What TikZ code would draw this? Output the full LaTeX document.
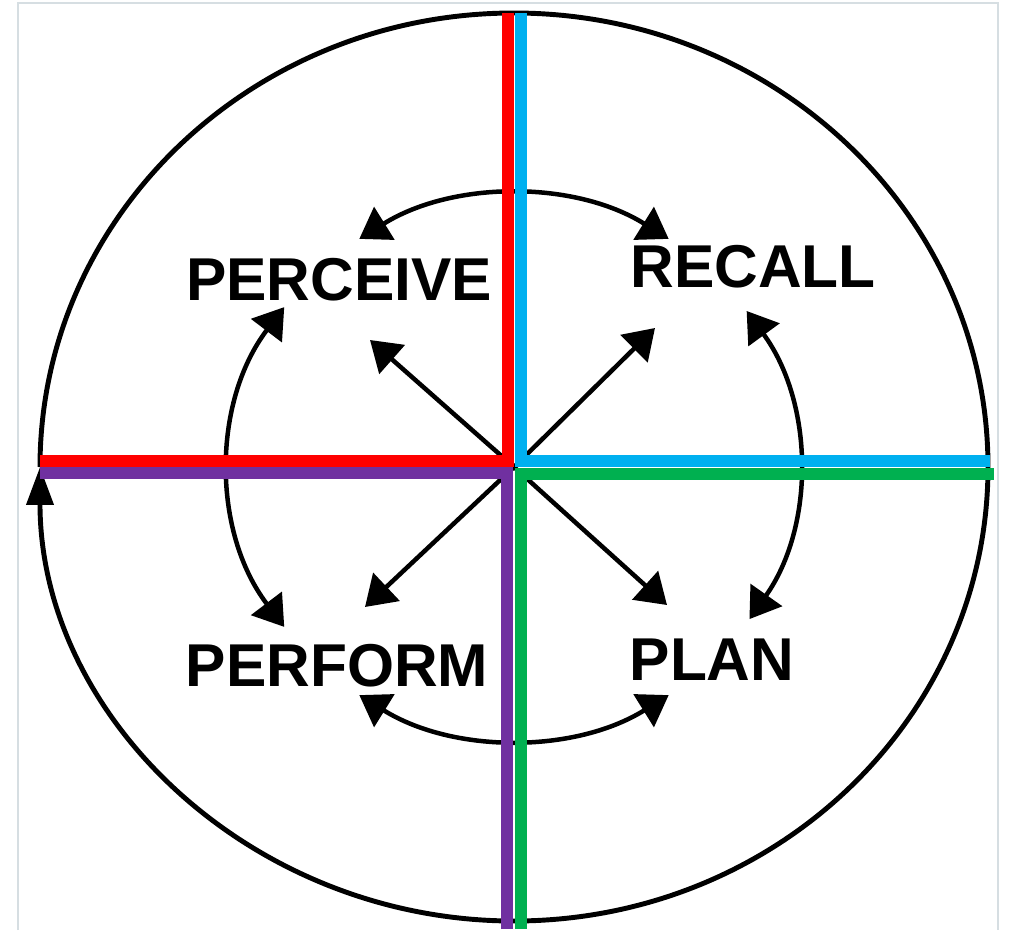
\documentclass[tikz,border=0pt]{standalone}
\usepackage{fontspec}
\setmainfont{Liberation Sans}
\usetikzlibrary{arrows.meta}
\definecolor{qred}{HTML}{FF0000}
\definecolor{qblue}{HTML}{00B0F0}
\definecolor{qgreen}{HTML}{00B050}
\definecolor{qpurple}{HTML}{7030A0}
\definecolor{framegrey}{HTML}{D6DEE2}
\begin{document}
\begin{tikzpicture}[x=0.025cm,y=0.025cm,
  lbl/.style={font=\fontsize{43}{50}\selectfont\bfseries,inner sep=0pt},
  bar/.style={line width=8.4pt,line join=miter},
  arr/.style={line width=3.2pt,-{Triangle[length=21pt,width=27pt]}},
  twoarr/.style={line width=3.2pt,{Triangle[length=21pt,width=27pt]}-{Triangle[length=21pt,width=27pt]}}]
\useasboundingbox (-514,-463) rectangle (496,467);
% cadre
\draw[framegrey,line width=1.5pt] (-496,-463) -- (-496,464) -- (484,464) -- (484,-463);
% cercle exterieur
\draw[line width=3.5pt,-{Triangle[length=27pt,width=19pt]}] (-474,0) arc[start angle=180,end angle=-180,x radius=474,y radius=454];
% etiquettes
\node[lbl] (perceive) at (-175,187) {PERCEIVE};
\node[lbl] (recall) at (239,200) {RECALL};
\node[lbl] (perform) at (-177,-199) {PERFORM};
\node[lbl] (plan) at (198,-193) {PLAN};
% fleches diagonales
\coordinate (c) at (0,0);
\coordinate (tpe) at (-144,127);
\coordinate (tre) at (141,139);
\coordinate (tpf) at (-149,-140);
\coordinate (tpl) at (153,-138);
\draw[arr] (c) -- (tpe);
\draw[arr] (c) -- (tre);
\draw[arr] (c) -- (tpf);
\draw[arr] (c) -- (tpl);
% fleches courbes
\draw[twoarr] (57:284 and 272) arc[start angle=57,end angle=123,x radius=284,y radius=272];
\draw[twoarr] (144:284 and 272) arc[start angle=144,end angle=216,x radius=284,y radius=272];
\draw[twoarr] (237:284 and 272) arc[start angle=237,end angle=303,x radius=284,y radius=272];
\draw[twoarr] (-34:284 and 272) arc[start angle=-34,end angle=35,x radius=284,y radius=272];
% barres
\draw[bar,qred] (-6,454) -- (-6,6) -- (-474,6);
\draw[bar,qblue] (7,454) -- (7,6) -- (476,6);
\draw[bar,qpurple] (-7,-462) -- (-7,-6) -- (-474,-6);
\draw[bar,qgreen] (7,-462) -- (7,-7) -- (480,-7);
\end{tikzpicture}
\end{document}
